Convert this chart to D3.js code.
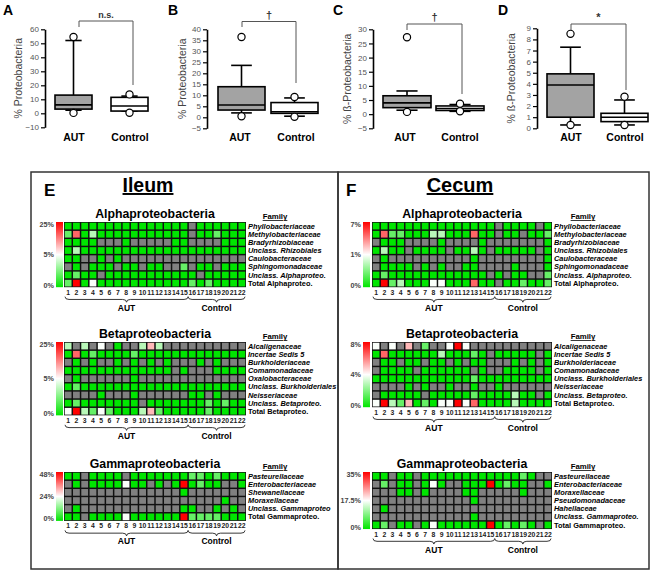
<!DOCTYPE html>
<html>
<head>
<meta charset="utf-8">
<script src="https://cdn.jsdelivr.net/npm/d3@7"></script>
<style>
body { margin: 0; background: #fff; }
svg { display: block; }
text { font-family: Arial, "Liberation Sans", sans-serif; }
</style>
</head>
<body>
<svg id="fig" width="662" height="574"></svg>
<script>
// ---- box plot data: [lowWhisker, q1, median, q3, highWhisker] for AUT, Control
const groups = ["AUT", "Control"];
const statsA = [[2.2, 3, 6, 13, 52], [1.6, 1.6, 5.2, 11.4, 12.3]];
const outA = [[54.5, 0.3], [13.5, 0.4]];
const statsB = [[2, 3.3, 5.6, 13.9, 23.6], [0.5, 1.8, 2.5, 6.7, 8.8]];
const outB = [[36.5, 0.5], [9.2, 0.2]];
const statsC = [[1.4, 2.3, 4, 6.5, 8.2], [1.0, 1.3, 2.0, 2.9, 3.4]];
const outC = [[27.2, 0.8], [3.7, 1.0]];
const statsD = [[0.3, 1.0, 3.9, 4.9, 7.3], [0.3, 0.6, 1.0, 1.35, 2.55]];
const outD = [[8.5, 0.3], [2.85, 0.3]];
const sigLabels = ["n.s.", "\u2020", "\u2020", "*"];

// ---- heat map data: one string per family row, one char per sample 1..22
// "-" = not detected (grey); 0..6 = shade (green -> white -> red)
const samples = d3.range(1, 23);
const levelPos = {"0": 0, "1": 0.2, "2": 0.36, "3": 0.49, "4": 0.64, "5": 0.8, "6": 1};

const alphaFamiliesIleum = ["Phyllobacteriaceae", "Methylobacteriaceae", "Bradyrhizobiaceae", "Unclass. Rhizobiales",
  "Caulobacteraceae", "Sphingomonadaceae", "Unclass. Alphaproteo.", "Total Alphaproteo."];
const alphaIleum = [
  "000000000000000-000000",
  "150200000000000-001000",
  "0000---0-----00----000",
  "0200000000000000000000",
  "00--0-0---------------",
  "-0-000-00-00--1-00-000",
  "0100-00000000000-00000",
  "1603000000000001010000"];
const alphaIleumBar = ["25%", "5%", "0%"];

const betaFamiliesIleum = ["Alcaligenaceae", "Incertae Sedis 5", "Burkholderiaceae", "Comamonadaceae",
  "Oxalobacteraceae", "Unclass. Burkholderiales", "Neisseriaceae", "Unclass. Betaproteo.", "Total Betaproteo."];
const betaIleum = [
  "2-2-3-0--242----------",
  "0501000010000000000000",
  "-0-0--0-0-0-0---0-0---",
  "0000000000000-0---0000",
  "-0------0-------------",
  "0100000000000000000000",
  "----0---0------00-0---",
  "010000000-000000010100",
  "3621310002410000010000"];
const betaIleumBar = ["25%", "5%", "0%"];

const gammaFamiliesIleum = ["Pasteurellaceae", "Enterobacteriaceae", "Shewanellaceae", "Moraxellaceae",
  "Unclass. Gammaproteo", "Total Gammaproteo."];
const gammaIleum = [
  "00-0000-00000001101000",
  "-0-0000300-0-060100--0",
  "--------------0-------",
  "-------------------0--",
  "-0------------00--0-0-",
  "00-0000300000061111000"];
const gammaIleumBar = ["48%", "24%", "0%"];

const alphaFamiliesCecum = ["Phyllobacteriaceae", "Methylobacteriaceae", "Bradyrhizobiaceae", "Unclass. Rhizobiales",
  "Caulobacteraceae", "Sphingomonadaceae", "Unclass. Alphaproteo.", "Total Alphaproteo."];
const alphaCecum = [
  "000000000000000-0000-0",
  "051100022000500-00-001",
  "-000----0----0-------0",
  "0200-0000-0020-00000-0",
  "-0----------0--------0",
  "-0000-0-0--00----0---0",
  "01000000000000-0-00--1",
  "061200033000500-001001"];
const alphaCecumBar = ["7%", "1%", "0%"];

const betaFamiliesCecum = ["Alcaligenaceae", "Incertae Sedis 5", "Burkholderiaceae", "Comamonadaceae",
  "Unclass. Burkholderiales", "Neisseriaceae", "Unclass. Betaproteo.", "Total Betaproteo."];
const betaCecum = [
  "3-3-4-1--363----------",
  "05000000200010-00000-0",
  "-00-00-00-0-00---0-0-0",
  "-0000-000000-0--0000-0",
  "0000000000001000000000",
  "----0-0--0--0--0------",
  "-00000-0000010000200-0",
  "3621401033635000020000"];
const betaCecumBar = ["8%", "4%", "0%"];

const gammaFamiliesCecum = ["Pasteurellaceae", "Enterobacteriaceae", "Moraxellaceae", "Pseudomonadaceae",
  "Hahellaceae", "Unclass. Gammaproteo.", "Total Gammaproteo."];
const gammaCecum = [
  "00-00-00000000000010--",
  "-1-00-030--000601 00--0".replace(" ", ""),
  "---00-0----00-----0---",
  "------------0---------",
  "-0--------------------",
  "------------0---------",
  "01-00-03000000601010-0"];
const gammaCecumBar = ["35%", "17.5%", "0%"];

const svg = d3.select("#fig");
const GREEN = "#00e600", GREY = "#808080";
const cellColor = d3.scaleLinear().domain([0, 0.5, 1]).range([GREEN, "#ffffff", "#ff0000"]);

// ---------------- box plots ----------------
function boxPanel(o) {
  const g = svg.append("g");
  const y = d3.scaleLinear().domain(o.domain).range([o.bottom, o.top]);

  g.append("text").attr("x", o.letterX).attr("y", 15).attr("font-size", 14)
    .attr("font-weight", "bold").text(o.letter);

  const ax = g.append("g").attr("transform", "translate(" + o.axisX + ",0)")
    .call(d3.axisLeft(y).tickValues(o.ticks).tickSize(4).tickSizeOuter(0).tickPadding(2));
  ax.select(".domain").attr("stroke", "#000").attr("stroke-width", 1.6);
  ax.selectAll(".tick line").attr("stroke", "#000").attr("stroke-width", 1.2);
  ax.selectAll(".tick text").attr("font-size", 8).attr("fill", "#555")
    .attr("font-family", "Arial, 'Liberation Sans', sans-serif");

  g.append("text")
    .attr("transform", "translate(" + o.titleX + "," + ((o.top + o.bottom) / 2) + ") rotate(-90)")
    .attr("text-anchor", "middle").attr("font-size", 10.5).attr("fill", "#444").text(o.title);

  const x = d3.scaleOrdinal().domain(groups).range(o.boxX);
  groups.forEach((grp, i) => {
    const s = o.stats[i];
    const x0 = x(grp), cx = x0 + o.boxW / 2, cap = o.boxW * 0.22;
    g.append("line").attr("x1", cx).attr("x2", cx).attr("y1", y(s[4])).attr("y2", y(s[3]))
      .attr("stroke", "#000").attr("stroke-width", 1.6);
    g.append("line").attr("x1", cx).attr("x2", cx).attr("y1", y(s[1])).attr("y2", y(s[0]))
      .attr("stroke", "#000").attr("stroke-width", 1.6);
    [s[0], s[4]].forEach(v => {
      g.append("line").attr("x1", cx - cap).attr("x2", cx + cap).attr("y1", y(v)).attr("y2", y(v))
        .attr("stroke", "#000").attr("stroke-width", 1.6);
    });
    g.append("rect").attr("x", x0).attr("width", o.boxW)
      .attr("y", y(s[3])).attr("height", y(s[1]) - y(s[3]))
      .attr("fill", i === 0 ? "#a3a3a3" : "#fff").attr("stroke", "#000").attr("stroke-width", 1.6);
    g.append("line").attr("x1", x0).attr("x2", x0 + o.boxW).attr("y1", y(s[2])).attr("y2", y(s[2]))
      .attr("stroke", "#000").attr("stroke-width", 1.6);
    o.out[i].forEach(v => {
      g.append("circle").attr("cx", cx).attr("cy", y(v)).attr("r", 3.6)
        .attr("fill", "#fff").attr("stroke", "#000").attr("stroke-width", 1.2);
    });
    g.append("text").attr("x", o.labelX[i]).attr("y", 141).attr("text-anchor", "middle")
      .attr("font-size", 10.5).attr("font-weight", "bold").text(grp);
  });

  const b = o.bracket;
  g.append("path").attr("d", "M" + b[0] + "," + b[1] + "V" + b[2] + "H" + b[3] + "V" + b[4])
    .attr("fill", "none").attr("stroke", "#555").attr("stroke-width", 1);
  g.append("text").attr("x", (b[0] + b[3]) / 2).attr("y", b[2] - 3).attr("text-anchor", "middle")
    .attr("font-size", o.sigSize).attr("font-weight", "bold").attr("fill", "#333").text(o.sig);
}

boxPanel({letter: "A", letterX: 3, domain: [-10, 60], bottom: 127.3, top: 29.3, ticks: d3.range(-10, 61, 10),
  axisX: 45, titleX: 22, title: "% Proteobacteria", stats: statsA, out: outA, boxX: [55, 111], boxW: 37,
  labelX: [74, 130], bracket: [79, 27, 21, 133, 85], sig: sigLabels[0], sigSize: 9});
boxPanel({letter: "B", letterX: 168, domain: [-5, 40], bottom: 128.3, top: 29.3, ticks: d3.range(-5, 41, 5),
  axisX: 207, titleX: 186, title: "% Proteobacteria", stats: statsB, out: outB, boxX: [218, 271], boxW: 47,
  labelX: [240, 296], bracket: [242, 27, 21.5, 296, 83], sig: sigLabels[1], sigSize: 11});
boxPanel({letter: "C", letterX: 333, domain: [-5, 30], bottom: 128.3, top: 29.3, ticks: d3.range(-5, 31, 5),
  axisX: 373, titleX: 351, title: "% \u00DF-Proteobacteria", stats: statsC, out: outC, boxX: [383, 436], boxW: 48,
  labelX: [405, 460], bracket: [407, 30, 24, 462, 94], sig: sigLabels[2], sigSize: 11});
boxPanel({letter: "D", letterX: 498, domain: [0, 9], bottom: 128.3, top: 28.3, ticks: d3.range(0, 10, 1),
  axisX: 537, titleX: 515, title: "% \u00DF-Proteobacteria", stats: statsD, out: outD, boxX: [547, 601], boxW: 47,
  labelX: [571, 625], bracket: [571, 30, 24, 626, 90], sig: sigLabels[3], sigSize: 11});

// ---------------- heat map panels ----------------
svg.append("rect").attr("x", 31).attr("y", 172).attr("width", 307).attr("height", 397)
  .attr("fill", "none").attr("stroke", "#333").attr("stroke-width", 1.5);
svg.append("rect").attr("x", 338).attr("y", 172).attr("width", 311).attr("height", 397)
  .attr("fill", "none").attr("stroke", "#333").attr("stroke-width", 1.5);

svg.append("text").attr("x", 44).attr("y", 196).attr("font-size", 17).attr("font-weight", "bold").text("E");
svg.append("text").attr("x", 346).attr("y", 196).attr("font-size", 17).attr("font-weight", "bold").text("F");
svg.append("text").attr("x", 148).attr("y", 192).attr("text-anchor", "middle").attr("font-size", 19.5)
  .attr("font-weight", "bold").attr("text-decoration", "underline").text("Ileum");
svg.append("text").attr("x", 460).attr("y", 192).attr("text-anchor", "middle").attr("font-size", 20)
  .attr("font-weight", "bold").attr("text-decoration", "underline").text("Cecum");

const defs = svg.append("defs");
const grad = defs.append("linearGradient").attr("id", "cbar").attr("x1", 0).attr("y1", 0).attr("x2", 0).attr("y2", 1);
grad.append("stop").attr("offset", "0%").attr("stop-color", "#ff0000");
grad.append("stop").attr("offset", "50%").attr("stop-color", "#ffffff");
grad.append("stop").attr("offset", "100%").attr("stop-color", GREEN);

function brace(x1, x2, y, d) {
  const m = (x1 + x2) / 2, h = y + d / 2, q = 4;
  return "M" + x1 + "," + y + "Q" + x1 + "," + h + " " + (x1 + q) + "," + h +
    "L" + (m - q) + "," + h + "Q" + m + "," + h + " " + m + "," + (y + d) +
    "Q" + m + "," + h + " " + (m + q) + "," + h + "L" + (x2 - q) + "," + h +
    "Q" + x2 + "," + h + " " + x2 + "," + y;
}

function heatmap(o) {
  const g = svg.append("g");
  const nRows = o.rows.length, ph = 8.15, H = nRows * ph;
  const x = d3.scaleBand().domain(samples).range([o.gx, o.gx + o.gw]).paddingInner(0.18).paddingOuter(0.09);
  const y = d3.scaleBand().domain(d3.range(nRows)).range([o.gy, o.gy + H]).paddingInner(0.18).paddingOuter(0.09);

  g.append("text").attr("x", o.gx + o.gw / 2).attr("y", o.gy - 4).attr("text-anchor", "middle")
    .attr("font-size", 12.3).attr("font-weight", "bold").text(o.title);
  g.append("text").attr("x", o.famX).attr("y", o.gy - 3).attr("text-anchor", "middle")
    .attr("font-size", 7.8).attr("font-weight", "bold").attr("text-decoration", "underline").text("Family");

  // colour bar
  g.append("rect").attr("x", o.cbX).attr("y", o.gy).attr("width", 7).attr("height", H).attr("fill", "url(#cbar)");
  const barY = [o.gy + 2.5, o.gy + H / 2, o.gy + H - 2];
  o.bar.forEach((lab, i) => {
    g.append("text").attr("x", o.cbX - 2).attr("y", barY[i]).attr("dy", "0.35em").attr("text-anchor", "end")
      .attr("font-size", 7.2).attr("font-weight", "bold").attr("fill", "#444").text(lab);
  });

  g.append("rect").attr("x", o.gx).attr("y", o.gy).attr("width", o.gw).attr("height", H).attr("fill", "#111");
  o.rows.forEach((row, r) => {
    g.selectAll(null).data(row.split("").map((c, i) => ({c: c, s: samples[i]}))).enter().append("rect")
      .attr("x", d => x(d.s)).attr("y", y(r)).attr("width", x.bandwidth()).attr("height", y.bandwidth())
      .attr("fill", d => d.c === "-" ? GREY : cellColor(levelPos[d.c]));
  });

  o.families.forEach((f, r) => {
    const last = r === nRows - 1;
    g.append("text").attr("x", o.gx + o.gw + 2).attr("y", y(r) + y.bandwidth() / 2).attr("dy", "0.36em")
      .attr("font-size", 7.4).attr("font-weight", "bold").attr("font-style", last ? "normal" : "italic")
      .text(f);
  });

  g.selectAll(null).data(samples).enter().append("text")
    .attr("x", d => x(d) + x.bandwidth() / 2).attr("y", o.gy + H + 7.5).attr("text-anchor", "middle")
    .attr("font-size", 6.8).attr("font-weight", "bold").attr("fill", "#222").text(d => d);

  const split = x(16) - (x.step() - x.bandwidth()) / 2;
  const spans = [[o.gx + 1, split, "AUT"], [split, o.gx + o.gw - 1, "Control"]];
  spans.forEach(sp => {
    g.append("path").attr("d", brace(sp[0], sp[1], o.gy + H + 9.5, 5.5))
      .attr("fill", "none").attr("stroke", "#222").attr("stroke-width", 0.9);
    g.append("text").attr("x", (sp[0] + sp[1]) / 2).attr("y", o.gy + H + 23.5).attr("text-anchor", "middle")
      .attr("font-size", 8.5).attr("font-weight", "bold").text(sp[2]);
  });
}

const ileum = {gx: 64, gw: 182, cbX: 56, famX: 275};
const cecum = {gx: 372, gw: 180, cbX: 363, famX: 583};
heatmap(Object.assign({gy: 222, title: "Alphaproteobacteria", rows: alphaIleum, families: alphaFamiliesIleum, bar: alphaIleumBar}, ileum));
heatmap(Object.assign({gy: 342, title: "Betaproteobacteria", rows: betaIleum, families: betaFamiliesIleum, bar: betaIleumBar}, ileum));
heatmap(Object.assign({gy: 472, title: "Gammaproteobacteria", rows: gammaIleum, families: gammaFamiliesIleum, bar: gammaIleumBar}, ileum));
heatmap(Object.assign({gy: 222, title: "Alphaproteobacteria", rows: alphaCecum, families: alphaFamiliesCecum, bar: alphaCecumBar}, cecum));
heatmap(Object.assign({gy: 342, title: "Betaproteobacteria", rows: betaCecum, families: betaFamiliesCecum, bar: betaCecumBar}, cecum));
heatmap(Object.assign({gy: 472, title: "Gammaproteobacteria", rows: gammaCecum, families: gammaFamiliesCecum, bar: gammaCecumBar}, cecum));
</script>
</body>
</html>
